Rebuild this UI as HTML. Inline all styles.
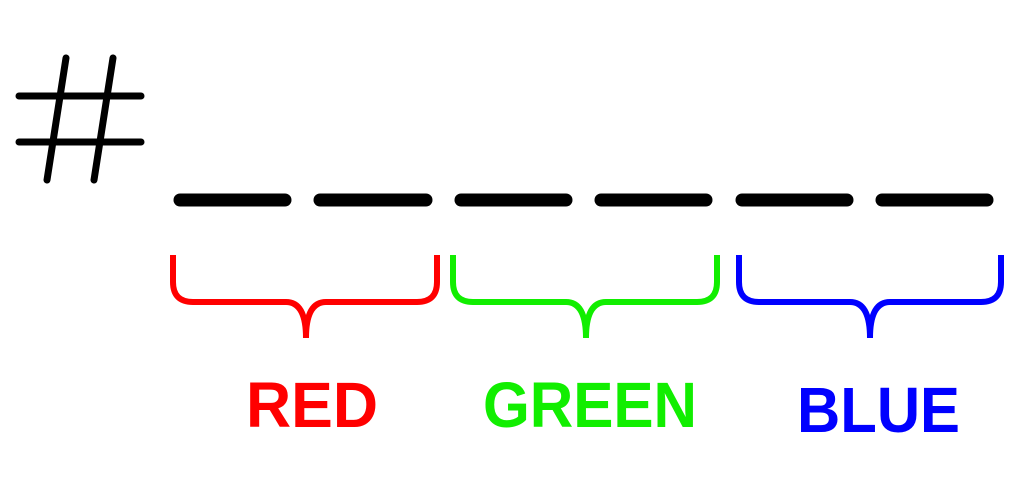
<!DOCTYPE html>
<html><head><style>html,body{margin:0;padding:0;background:#fff;}</style></head>
<body>
<svg width="1022" height="475" viewBox="0 0 1022 475" xmlns="http://www.w3.org/2000/svg">
<g stroke="#000" stroke-linecap="round" fill="none">
<g stroke-width="7">
<line x1="66" y1="58" x2="47" y2="180"/>
<line x1="113" y1="58" x2="94" y2="180"/>
<line x1="19" y1="96" x2="141" y2="96"/>
<line x1="19" y1="142" x2="141" y2="142"/>
</g>
<g stroke-width="13">
<line x1="180" y1="200" x2="285" y2="200"/>
<line x1="320" y1="200" x2="426" y2="200"/>
<line x1="461" y1="200" x2="566" y2="200"/>
<line x1="601" y1="200" x2="706" y2="200"/>
<line x1="742" y1="200" x2="847" y2="200"/>
<line x1="882" y1="200" x2="987" y2="200"/>
</g>
</g>
<g fill="none" stroke-width="6" stroke-linecap="butt">
<path stroke="#ff0000" d="M173 255 V282 Q173 302 193 302 H286 Q306 302 306 338 Q306 302 326 302 H417 Q437 302 437 282 V255"/>
<path stroke="#11ee00" d="M453 255 V282 Q453 302 473 302 H566 Q586 302 586 338 Q586 302 606 302 H697 Q717 302 717 282 V255"/>
<path stroke="#0000ff" d="M739 255 V282 Q739 302 759 302 H850 Q870 302 870 338 Q870 302 890 302 H981 Q1001 302 1001 282 V255"/>
</g>
<g font-family="Liberation Sans, sans-serif" font-weight="bold" font-size="64">
<text x="246" y="427" fill="#ff0000" textLength="132" lengthAdjust="spacingAndGlyphs">RED</text>
<text x="483" y="427" fill="#11ee00" textLength="214" lengthAdjust="spacingAndGlyphs">GREEN</text>
<text x="797" y="432" fill="#0000ff" textLength="163" lengthAdjust="spacingAndGlyphs">BLUE</text>
</g>
</svg>
</body></html>
